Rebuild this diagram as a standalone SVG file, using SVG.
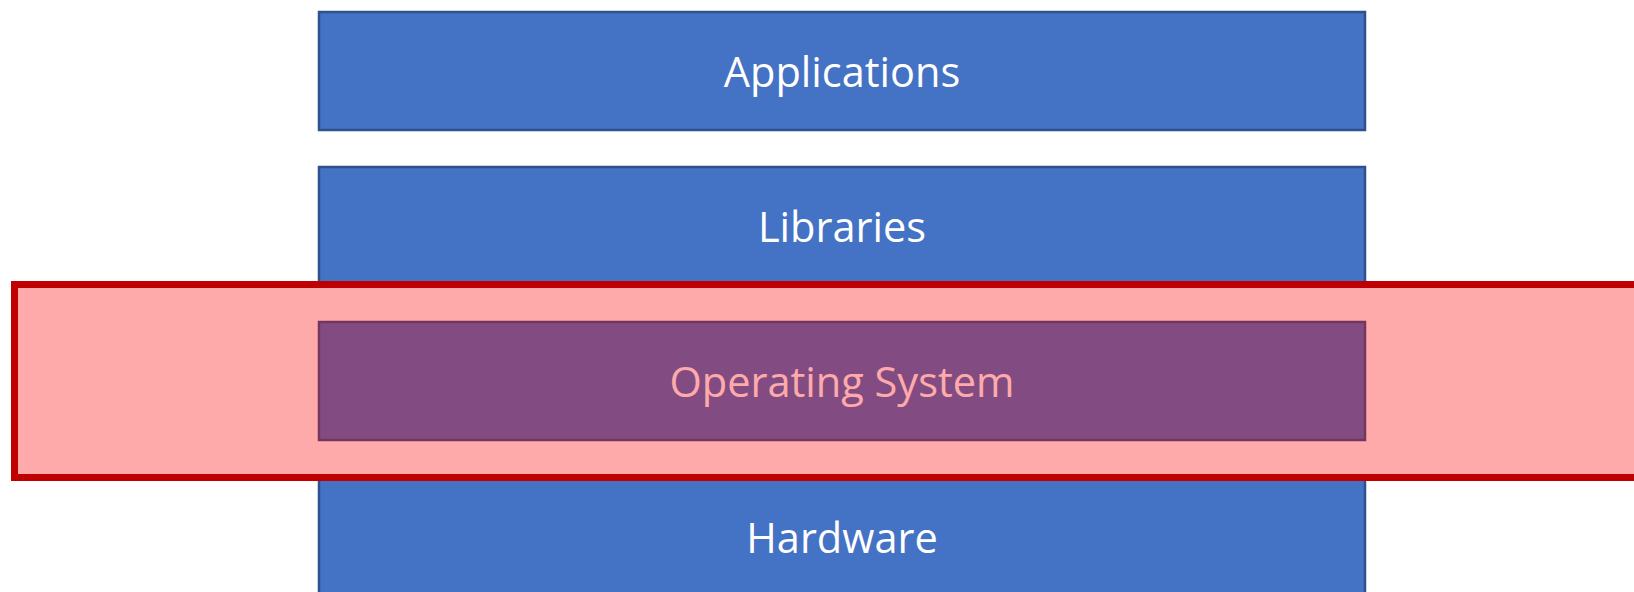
<svg xmlns="http://www.w3.org/2000/svg" width="1634" height="592" viewBox="0 0 1634 592">
  <style>
    .layer { fill: #4472C4; stroke: #2F528F; stroke-width: 2.5; }
    .label { fill: #FFFFFF; font-family: "Open Sans", "Liberation Sans", sans-serif; font-size: 41.5px; text-anchor: middle; }
    .highlight { fill: #FF0000; fill-opacity: 0.333; stroke: #C00000; stroke-width: 7; }
  </style>
  <rect width="1634" height="592" fill="#FFFFFF"/>
  <g id="applications">
    <rect class="layer" x="319" y="12" width="1046" height="118"/>
    <text class="label" x="842" y="87">Applications</text>
  </g>
  <g id="libraries">
    <rect class="layer" x="319" y="167" width="1046" height="118"/>
    <text class="label" x="842" y="242">Libraries</text>
  </g>
  <g id="operating-system">
    <rect class="layer" x="319" y="322" width="1046" height="118"/>
    <text class="label" x="842" y="397">Operating System</text>
  </g>
  <g id="hardware">
    <rect class="layer" x="319" y="478" width="1046" height="130"/>
    <text class="label" x="842" y="553">Hardware</text>
  </g>
  <g id="connectors"></g>
  <g id="os-highlight">
    <rect class="highlight" x="14.5" y="284.5" width="1640" height="193"/>
  </g>
</svg>
